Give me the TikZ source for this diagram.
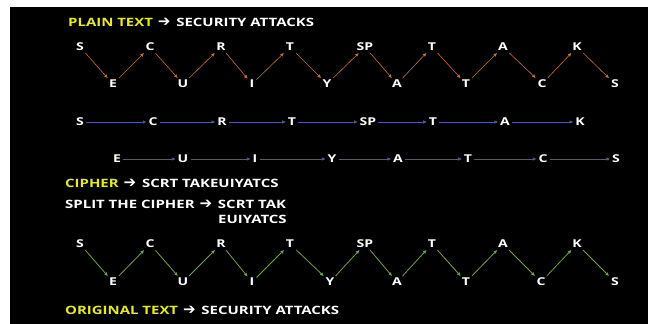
\documentclass[tikz,border=0pt]{standalone}
\usepackage{fontspec}
\setmainfont{Open Sans}[FakeStretch=1.3]
\newfontfamily\arrfont{DejaVu Sans}
\usetikzlibrary{arrows.meta}
\definecolor{yell}{RGB}{232,232,40}
\definecolor{orng}{RGB}{196,112,62}
\definecolor{blu}{RGB}{72,92,150}
\definecolor{grn}{RGB}{112,160,82}
\tikzset{
  lt/.style={text=white,font=\fontsize{10.8}{12}\selectfont\bfseries,inner sep=2pt},
  hd/.style={text=white,font=\fontsize{11.5}{13}\selectfont\bfseries,inner sep=0pt,anchor=west},
  con/.style={line width=0.6pt,-{Triangle[length=3.5pt,width=3pt]}},
  oar/.style={con,draw=orng},
  bar/.style={con,draw=blu},
  gar/.style={con,draw=grn,line width=0.8pt}
}
\newcommand{\harr}{\hspace{1pt}{\arrfont\bfseries\fontsize{15}{13}\selectfont\char"2794}\hspace{2pt}}
\begin{document}
\begin{tikzpicture}[x=1pt,y=-1pt]
\useasboundingbox (0,0) rectangle (648,324);
\fill[white] (0,0) rectangle (648,324);
\fill[black] (10,7) rectangle (648,324);
% headings
\node[hd] (h1) at (68,22) {\textcolor{yell}{PLAIN TEXT} \harr\ SECURITY ATTACKS};
\node[hd] (h2) at (65,183) {\textcolor{yell}{CIPHER} \harr\ SCRT TAKEUIYATCS};
\node[hd] (h3) at (65,204) {SPLIT THE CIPHER \harr\ SCRT TAK};
\node[hd] (h4) at (218,219) {EUIYATCS};
\node[hd] (h5) at (65,310) {\textcolor{yell}{ORIGINAL TEXT} \harr\ SECURITY ATTACKS};
% row 1 zigzag
\foreach \x/\t [count=\i] in {80/S,150/C,221/R,290/T,365/SP,432/T,503/A,577/K}
  \node[lt] (a\i) at (\x,47) {\t};
\foreach \x/\t [count=\i] in {113/E,183/U,252/I,327/Y,397/A,466/T,542/C,615/S}
  \node[lt] (b\i) at (\x,84) {\t};
\foreach \i in {1,...,8} \draw[oar] (a\i) -- (b\i);
\foreach \i [evaluate=\i as \j using int(\i+1)] in {1,...,7} \draw[oar] (b\i) -- (a\j);
% row 2
\foreach \x/\t [count=\i] in {80/S,153/C,222/R,292/T,368/SP,433/T,505/A,580/K}
  \node[lt] (c\i) at (\x,122) {\t};
\foreach \i [evaluate=\i as \j using int(\i+1)] in {1,...,7} \draw[bar] (c\i) -- (c\j);
% row 3
\foreach \x/\t [count=\i] in {117/E,183/U,255/I,332/Y,398/A,468/T,543/C,616/S}
  \node[lt] (d\i) at (\x,159) {\t};
\foreach \i [evaluate=\i as \j using int(\i+1)] in {1,...,7} \draw[bar] (d\i) -- (d\j);
% row 4 zigzag
\foreach \x/\t [count=\i] in {80/S,150/C,221/R,290/T,365/SP,432/T,503/A,577/K}
  \node[lt] (e\i) at (\x,244) {\t};
\foreach \x/\t [count=\i] in {113/E,183/U,252/I,330/Y,397/A,466/T,541/C,615/S}
  \node[lt] (f\i) at (\x,282) {\t};
\foreach \i in {1,...,8} \draw[gar] (e\i) -- (f\i);
\foreach \i [evaluate=\i as \j using int(\i+1)] in {1,...,7} \draw[gar] (f\i) -- (e\j);
\end{tikzpicture}
\end{document}
